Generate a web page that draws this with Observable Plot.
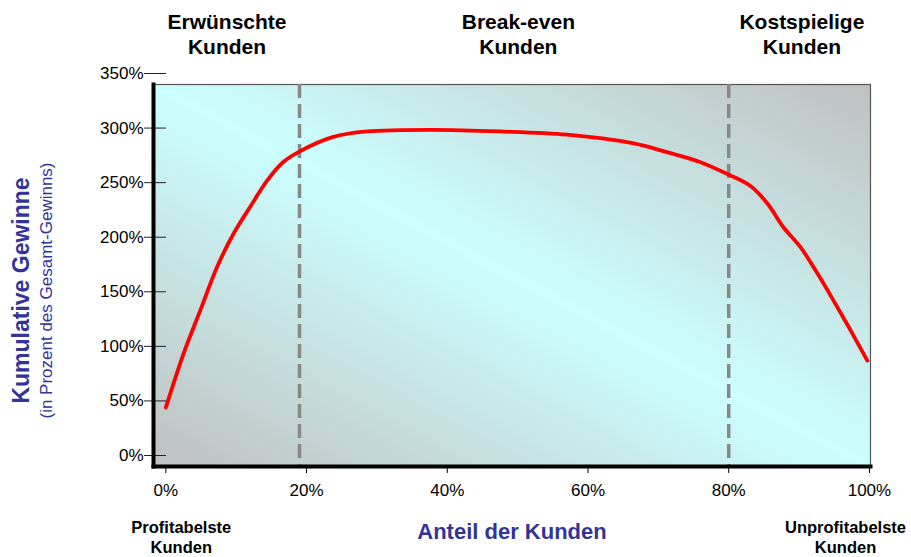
<!DOCTYPE html>
<html>
<head>
<meta charset="utf-8">
<script src="https://cdn.jsdelivr.net/npm/d3@7"></script>
<script src="https://cdn.jsdelivr.net/npm/@observablehq/plot@0.6"></script>
<style>
  html, body { margin: 0; padding: 0; background: white; }
  #chart { width: 911px; height: 557px; }
</style>
</head>
<body>
<div id="chart"></div>
<script>
// ---- data ----
const customerShare = [0, 2.5, 4.9, 7.3, 9.6, 12.0, 14.4, 16.7, 19.1, 23.8, 28.6, 38.0, 47.5, 57.0, 66.5, 71.2, 75.9, 79.8, 83.1, 85.5, 87.8, 90.2, 92.6, 94.9, 97.3, 99.7];
const cumulativeProfit = [54, 103, 143, 183, 213, 238, 262, 279, 289, 302, 307, 308.5, 307, 304, 296, 288, 279, 268, 257, 241, 219, 201, 177, 152, 125, 97];

const dividers = [19, 80];

const segmentLabels = ["Erwünschte\nKunden", "Break-even\nKunden", "Kostspielige\nKunden"];
const segmentX = [8.7, 50.1, 90.4];

const endLabels = ["Profitabelste\nKunden", "Unprofitabelste\nKunden"];
const endX = [2.2, 96.6];

const xTicks = [0, 20, 40, 60, 80, 100];
const yTicks = [0, 50, 100, 150, 200, 250, 300, 350];

const xTitle = ["Anteil der Kunden"];
const yTitle = ["Kumulative Gewinne"];
const ySubtitle = ["(in Prozent des Gesamt-Gewinns)"];

// ---- chart ----
const rows = customerShare.map((x, i) => ({x, y: cumulativeProfit[i]}));
const segs = segmentLabels.map((t, i) => ({t, x: segmentX[i]}));
const ends = endLabels.map((t, i) => ({t, x: endX[i]}));
const blue = "#333399";
const font = "'Liberation Sans', Arial, Helvetica, sans-serif";

const svg = Plot.plot({
  width: 911,
  height: 557,
  marginLeft: 153,
  marginRight: 41,
  marginTop: 84,
  marginBottom: 91,
  style: {fontFamily: font, fontSize: "17px", color: "black", background: "white", overflow: "visible"},
  x: {domain: [-1.75, 100.15]},
  y: {domain: [0, 350]},
  marks: [
    Plot.frame({fill: "url(#bg)", stroke: "#555", strokeWidth: 1.2}),
    Plot.ruleX(dividers, {x: d => d, stroke: "#888", strokeWidth: 3.5, strokeDasharray: "14,6"}),
    Plot.line(rows, {x: "x", y: "y", stroke: "#ff0000", strokeWidth: 3.8, curve: "catmull-rom"}),
    Plot.axisY({ticks: yTicks, tickSize: 22, insetLeft: 13, tickPadding: 1, dy: -11,
      tickFormat: d => `${d}%`, fontSize: 17, label: null, stroke: "#222"}),
    Plot.axisX({ticks: xTicks, tickSize: 7, tickPadding: 10,
      tickFormat: d => `${d}%`, fontSize: 17, label: null}),
    Plot.frame({anchor: "left", stroke: "black", strokeWidth: 4}),
    Plot.frame({anchor: "bottom", stroke: "black", strokeWidth: 4}),
    Plot.text(segs, {x: "x", text: "t", frameAnchor: "top", lineAnchor: "bottom", dy: -31,
      fontSize: 21, fontWeight: "bold", lineHeight: 1.19, fill: "black"}),
    Plot.text(ends, {x: "x", text: "t", frameAnchor: "bottom", lineAnchor: "bottom", dy: 86,
      fontSize: 16.5, fontWeight: "bold", lineHeight: 1.2, fill: "black"}),
    Plot.text(xTitle, {text: d => d, frameAnchor: "bottom", lineAnchor: "bottom", dy: 72,
      fontSize: 22, fontWeight: "bold", fill: blue}),
    Plot.text(yTitle, {text: d => d, frameAnchor: "left", textAnchor: "middle", rotate: -90, lineAnchor: "middle",
      dx: -132, dy: 15, fontSize: 23, fontWeight: "bold", fill: blue}),
    Plot.text(ySubtitle, {text: d => d, frameAnchor: "left", textAnchor: "middle", rotate: -90, lineAnchor: "middle",
      dx: -107, dy: 15, fontSize: 17, fill: blue})
  ]
});

const defs = d3.select(svg).insert("defs", ":first-child");
const grad = defs.append("linearGradient")
  .attr("id", "bg")
  .attr("x1", 0).attr("y1", 1).attr("x2", 1).attr("y2", 0);
grad.append("stop").attr("offset", "0%").attr("stop-color", "#c0c0c0");
grad.append("stop").attr("offset", "50%").attr("stop-color", "#ccffff");
grad.append("stop").attr("offset", "100%").attr("stop-color", "#c0c0c0");

document.getElementById("chart").appendChild(svg);
</script>
</body>
</html>
